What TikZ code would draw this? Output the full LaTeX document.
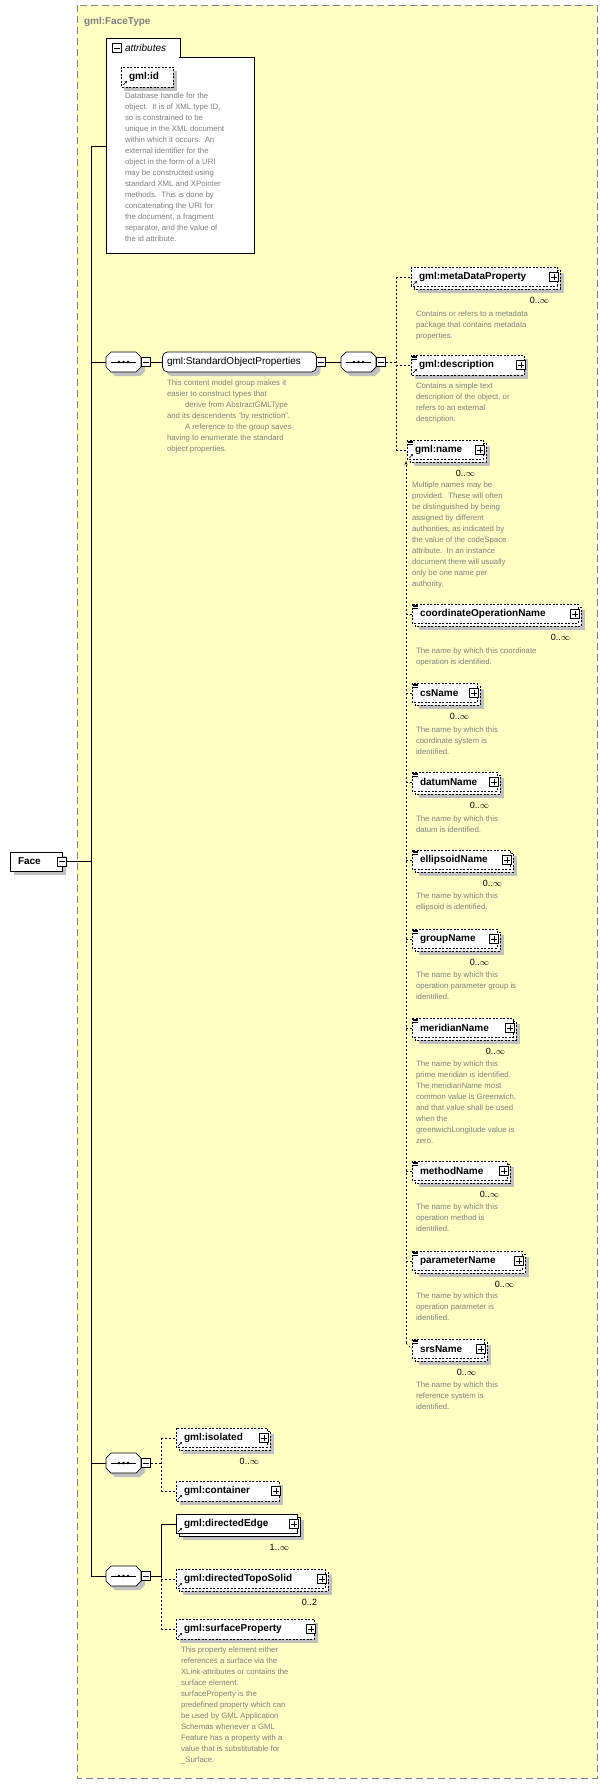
\documentclass[tikz,border=0pt]{standalone}
\usepackage{fontspec}
\setmainfont{Liberation Sans}
\usetikzlibrary{arrows.meta}
\definecolor{bgyel}{RGB}{255,255,196}
\definecolor{descgray}{RGB}{128,128,128}
\definecolor{shadowgray}{RGB}{192,192,192}
\tikzset{
 every node/.style={inner sep=0pt, outer sep=0pt},
 lbl/.style={font=\fontsize{10}{12}\selectfont\bfseries, anchor=west},
 lbln/.style={font=\fontsize{10}{12}\selectfont, anchor=west},
 mult/.style={font=\fontsize{9}{11}\selectfont, anchor=east},
 desc/.style={font=\fontsize{7.8}{11}\selectfont, text=descgray, anchor=north west, align=left},
 optb/.style={draw, dash pattern=on 2pt off 1.5pt, fill=white, line width=0.7pt},
 reqb/.style={draw, fill=white, line width=0.7pt},
 conn/.style={line width=0.8pt},
 dconn/.style={line width=0.7pt, dash pattern=on 2pt off 2pt},
}
% plus / minus icons
\newcommand{\PlusIcon}[2]{\draw[fill=white,line width=0.6pt] (#1-4.5,#2-4.5) rectangle (#1+4.5,#2+4.5); \draw[line width=0.6pt] (#1-3,#2) -- (#1+3,#2) (#1,#2-3) -- (#1,#2+3);}
\newcommand{\MinusIcon}[2]{\draw[fill=white,line width=0.6pt] (#1-4.5,#2-4.5) rectangle (#1+4.5,#2+4.5); \draw[line width=0.6pt] (#1-3,#2) -- (#1+3,#2);}
\newcommand{\RefIcon}[2]{\draw[line width=0.6pt,-{Stealth[length=2.2pt,width=2.2pt]}] (#1+2,#2+8) -- (#1+6,#2+4);}
\newcommand{\SubIcon}[2]{\draw[line width=0.5pt] (#1+1,#2-9) -- (#1+6,#2-9) (#1+1,#2-7.5) -- (#1+6,#2-7.5) (#1+1,#2-6) -- (#1+6,#2-6);}
% single element: name, x1, yc, x2, label, style
\newcommand{\ElS}[6]{%
 \fill[shadowgray] (#2+4,#3-6) rectangle (#4+4,#3+14);
 \draw[#6] (#2,#3-10) rectangle (#4,#3+10);
 \node[lbl] (#1) at (#2+8,#3) {#5};
 \PlusIcon{#4-3}{#3}}
% multiple element: name, x1, yc, x2, label, style, mult
\newcommand{\ElM}[7]{%
 \fill[shadowgray] (#2+7,#3-4) rectangle (#4+7,#3+16);
 \draw[#6] (#2+3,#3-7) rectangle (#4+3,#3+12);
 \draw[#6] (#2,#3-10) rectangle (#4,#3+9);
 \node[lbl] (#1) at (#2+8,#3) {#5};
 \PlusIcon{#4-3}{#3}
 \node[mult] at (#4-8,#3+23) {#7};}
% sequence compositor: name, x, yc
\newcommand{\Seq}[3]{%
 \fill[shadowgray] (#2+4,#3-6) -- (#2+34,#3-6) -- (#2+39,#3-1) -- (#2+39,#3+9) -- (#2+34,#3+14) -- (#2+9,#3+14) -- (#2+4,#3+9) -- cycle;
 \draw[fill=white,line width=0.7pt] (#2+5,#3-10) -- (#2+30,#3-10) -- (#2+35,#3-5) -- (#2+35,#3+5) -- (#2+30,#3+10) -- (#2+5,#3+10) -- (#2,#3+5) -- (#2,#3-5) -- cycle;
 \node (#1) at (#2+17.5,#3) {};
 \draw[line width=0.7pt] (#2+5,#3) -- (#2+30,#3);
 \fill (#2+13,#3) circle (1.3) (#2+17.5,#3) circle (1.3) (#2+22,#3) circle (1.3);
 \MinusIcon{#2+40}{#3}}
\begin{document}
\begin{tikzpicture}[x=1pt,y=-1pt]
\useasboundingbox (0,0) rectangle (607,1784);
% type box
\draw[fill=bgyel, draw=descgray, line width=0.8pt, dash pattern=on 7pt off 4pt] (77,5) rectangle (597,1778);
\node[font=\fontsize{10}{12}\selectfont\bfseries, text=descgray, anchor=west] (ftype) at (84,22) {gml:FaceType};

% Face root
\fill[shadowgray] (14,856) rectangle (66,875);
\draw[reqb] (10,852) rectangle (62,871);
\node[lbl] (face) at (18,861.5) {Face};
\MinusIcon{62}{861.5}
\draw[conn] (66.5,861.5) -- (91,861.5);
\draw[conn] (91,146) -- (91,1576);

% attributes
\draw[fill=white,line width=0.7pt] (106.5,38) rectangle (180,57);
\draw[fill=white,line width=0.7pt] (106.5,57) rectangle (254.5,253);
\fill[white] (107.2,56) rectangle (179.3,58);
\MinusIcon{117}{48}
\node[font=\fontsize{10}{12}\selectfont\itshape, anchor=west] (attr) at (125,48) {attributes};
\draw[conn] (91,146) -- (106.5,146);
\fill[shadowgray] (124,71) rectangle (177,91);
\draw[optb] (121,67) rectangle (173,87);
\node[lbl] (gmlid) at (129,77) {gml:id};
\RefIcon{121}{77}
\node[desc] (dgmlid) at (125,92.5) {Database handle for the\\object.\ \ It is of XML type ID,\\so is constrained to be\\unique in the XML document\\within which it occurs.\ \ An\\external identifier for the\\object in the form of a URI\\may be constructed using\\standard XML and XPointer\\methods.\ \ This is done by\\concatenating the URI for\\the document, a fragment\\separator, and the value of\\the id attribute.};

% StandardObjectProperties
\draw[conn] (91,362) -- (106,362);
\Seq{seq1}{106}{362}
\draw[conn] (150.5,362) -- (162.5,362);
\fill[shadowgray,rounded corners=5pt] (166.5,356) rectangle (320.5,376);
\draw[fill=white,line width=0.7pt,rounded corners=5pt] (162.5,352) rectangle (316.5,372);
\node[lbln] (sop) at (167,362) {gml:StandardObjectProperties};
\MinusIcon{321}{362}
\node[desc] (dsop) at (167,379.5) {This content model group makes it\\easier to construct types that\\\hspace*{18pt}derive from AbstractGMLType\\and its descendents "by restriction".\\\hspace*{18pt}A reference to the group saves\\having to enumerate the standard\\object properties.};
\draw[conn] (325.5,362) -- (341,362);
\Seq{seq2}{341}{362}
\draw[dconn] (385.5,362) -- (396,362);
\draw[dconn] (396,277) -- (396,450);
\draw[dconn] (396,277) -- (411,277);
\draw[dconn] (396,365) -- (411,365);
\draw[dconn] (396,450) -- (407,450);

\ElM{mdp}{411}{277}{557}{gml:metaDataProperty}{optb}{0..$\infty$}
\RefIcon{411}{277}
\node[desc] (dmdp) at (416,310.5) {Contains or refers to a metadata\\package that contains metadata\\properties.};
\ElS{gdesc}{411}{365}{524}{gml:description}{optb}
\RefIcon{411}{365}\SubIcon{411}{365}
\node[desc] (dgdesc) at (416,382.5) {Contains a simple text\\description of the object, or\\refers to an external\\description.};
\ElM{gname}{407}{450}{483}{gml:name}{optb}{0..$\infty$}
\RefIcon{407}{450}\SubIcon{407}{450}
\node[desc] (dgname) at (412,481.5) {Multiple names may be\\provided.\ \ These will often\\be distinguished by being\\assigned by different\\authorities, as indicated by\\the value of the codeSpace\\attribute.\ \ In an instance\\document there will usually\\only be one name per\\authority.};

% substitution group line
\draw[dconn,-{Stealth[length=4pt,width=3pt]}] (406,1343) -- (406,461);
\draw[dconn] (406,1343) -- (412,1349);
\foreach \yy in {614,693,782,860,939,1028,1171,1261}{\draw[dconn] (406,\yy) -- (412,\yy);}

\ElM{con}{412}{614}{578}{coordinateOperationName}{optb}{0..$\infty$}\SubIcon{412}{614}
\node[desc] (dcon) at (416,647.5) {The name by which this coordinate\\operation is identified.};
\ElM{csn}{412}{693}{477}{csName}{optb}{0..$\infty$}\SubIcon{412}{693}
\node[desc] (dcsn) at (416,726.5) {The name by which this\\coordinate system is\\identified.};
\ElM{dn}{412}{782}{497}{datumName}{optb}{0..$\infty$}\SubIcon{412}{782}
\node[desc] (ddn) at (416,815.5) {The name by which this\\datum is identified.};
\ElM{en}{412}{860}{510}{ellipsoidName}{optb}{0..$\infty$}\SubIcon{412}{860}
\node[desc] (den) at (416,892.5) {The name by which this\\ellipsoid is identified.};
\ElM{gn}{412}{939}{497}{groupName}{optb}{0..$\infty$}\SubIcon{412}{939}
\node[desc] (dgn) at (416,971.5) {The name by which this\\operation parameter group is\\identified.};
\ElM{mn}{412}{1028}{513}{meridianName}{optb}{0..$\infty$}\SubIcon{412}{1028}
\node[desc] (dmn) at (416,1060.5) {The name by which this\\prime meridian is identified.\\The meridianName most\\common value is Greenwich,\\and that value shall be used\\when the\\greenwichLongitude value is\\zero.};
\ElM{men}{412}{1171}{507}{methodName}{optb}{0..$\infty$}\SubIcon{412}{1171}
\node[desc] (dmen) at (416,1203.5) {The name by which this\\operation method is\\identified.};
\ElM{pn}{412}{1261}{522}{parameterName}{optb}{0..$\infty$}\SubIcon{412}{1261}
\node[desc] (dpn) at (416,1292.5) {The name by which this\\operation parameter is\\identified.};
\ElM{sn}{412}{1349}{484}{srsName}{optb}{0..$\infty$}\SubIcon{412}{1349}
\node[desc] (dsn) at (416,1381.5) {The name by which this\\reference system is\\identified.};

% sequence 3
\draw[conn] (91,1463) -- (106,1463);
\Seq{seq3}{106}{1463}
\draw[dconn] (150.5,1463) -- (161,1463);
\draw[dconn] (161,1438) -- (161,1491);
\draw[dconn] (161,1438) -- (176,1438);
\draw[dconn] (161,1491) -- (176,1491);
\ElM{iso}{176}{1438}{267}{gml:isolated}{optb}{0..$\infty$}\RefIcon{176}{1438}
\ElS{cont}{176}{1491}{279}{gml:container}{optb}\RefIcon{176}{1491}

% sequence 4
\draw[conn] (91,1576) -- (106,1576);
\Seq{seq4}{106}{1576}
\draw[conn] (150.5,1576) -- (161,1576);
\draw[conn] (161,1524) -- (161,1576);
\draw[dconn] (161,1576) -- (161,1629);
\draw[conn] (161,1524) -- (176,1524);
\draw[dconn] (161,1579) -- (176,1579);
\draw[dconn] (161,1629) -- (176,1629);
\ElM{de}{176}{1524}{297}{gml:directedEdge}{reqb}{1..$\infty$}\RefIcon{176}{1524}
\ElM{dts}{176}{1579}{325}{gml:directedTopoSolid}{optb}{0..2}\RefIcon{176}{1579}
\ElS{sp}{176}{1629}{314}{gml:surfaceProperty}{optb}\RefIcon{176}{1629}
\node[desc] (dsp) at (181,1646.5) {This property element either\\references a surface via the\\XLink-attributes or contains the\\surface element.\\surfaceProperty is the\\predefined property which can\\be used by GML Application\\Schemas whenever a GML\\Feature has a property with a\\value that is substitutable for\\\_Surface.};
\end{tikzpicture}
\end{document}
